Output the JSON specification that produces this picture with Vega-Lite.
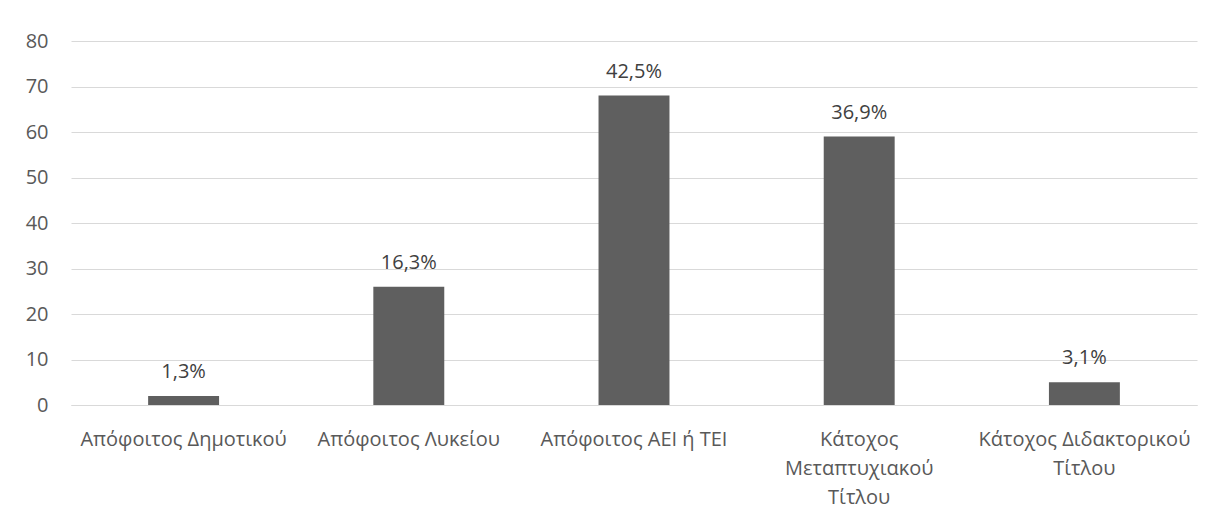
{
  "$schema": "https://vega.github.io/schema/vega-lite/v6.json",
  "width": 1126,
  "height": 364,
  "autosize": {"type": "none"},
  "padding": {"left": 71, "top": 41, "right": 20, "bottom": 114},
  "background": "white",
  "config": {
    "view": {"stroke": null},
    "font": "Open Sans"
  },
  "data": {
    "values": [
      {"cat": "Απόφοιτος Δημοτικού", "value": 2, "label": "1,3%"},
      {"cat": "Απόφοιτος Λυκείου", "value": 26, "label": "16,3%"},
      {"cat": "Απόφοιτος ΑΕΙ ή ΤΕΙ", "value": 68, "label": "42,5%"},
      {"cat": "Κάτοχος Μεταπτυχιακού Τίτλου", "value": 59, "label": "36,9%"},
      {"cat": "Κάτοχος Διδακτορικού Τίτλου", "value": 5, "label": "3,1%"}
    ]
  },
  "encoding": {
    "x": {
      "field": "cat", "type": "nominal", "sort": null,
      "scale": {"paddingInner": 0.685, "paddingOuter": 0.3425},
      "axis": {
        "title": null, "labelAngle": 0, "ticks": false,
        "domainColor": "#d9d9d9", "domainWidth": 1,
        "labelFontSize": 20, "labelColor": "#595959", "labelPadding": 24,
        "labelLineHeight": 29, "labelLimit": 300,
        "labelExpr": "datum.label == 'Κάτοχος Μεταπτυχιακού Τίτλου' ? ['Κάτοχος', 'Μεταπτυχιακού', 'Τίτλου'] : datum.label == 'Κάτοχος Διδακτορικού Τίτλου' ? ['Κάτοχος Διδακτορικού', 'Τίτλου'] : datum.label"
      }
    },
    "y": {
      "field": "value", "type": "quantitative",
      "scale": {"domain": [0, 80]},
      "axis": {
        "title": null, "values": [0, 10, 20, 30, 40, 50, 60, 70, 80],
        "domain": false, "ticks": false, "gridColor": "#d9d9d9", "gridWidth": 1,
        "labelFontSize": 20, "labelColor": "#595959", "labelPadding": 23
      }
    }
  },
  "layer": [
    {"mark": {"type": "bar", "color": "#5f5f5f"}},
    {
      "mark": {"type": "text", "dy": -24, "baseline": "middle", "fontSize": 20, "color": "#404040"},
      "encoding": {"text": {"field": "label"}}
    }
  ]
}
